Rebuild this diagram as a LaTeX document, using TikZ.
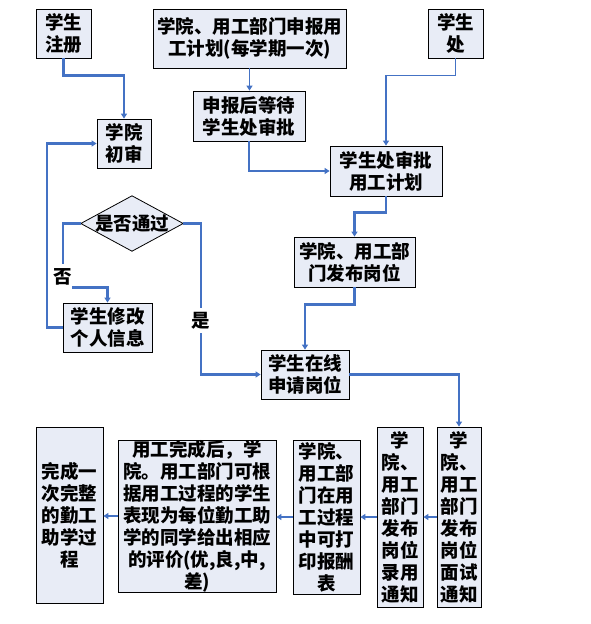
\documentclass[tikz,border=0pt]{standalone}
\usepackage{fontspec}
\setmainfont{Noto Sans CJK SC}
\usetikzlibrary{arrows.meta,calc}
\definecolor{boxfill}{RGB}{232,236,246}
\definecolor{linkblue}{RGB}{68,114,196}
\begin{document}
\begin{tikzpicture}[x=1pt,y=-1pt,
  box/.style={draw=black,line width=0.8pt,fill=boxfill,inner sep=0pt,align=center,
    font=\fontsize{18.5}{22}\selectfont\bfseries},
  conn/.style={draw=linkblue,line width=2.2pt,-{Triangle[length=5pt,width=6pt]}},
  thinconn/.style={conn,line width=1.7pt},
  lbl/.style={fill=white,inner sep=0pt,font=\fontsize{18.5}{22}\selectfont\bfseries}]
\useasboundingbox (0,0) rectangle (590,624);
\node[box,minimum width=55,minimum height=49] (reg) at (63.5,33.5) {学生\\注册};
\node[box,minimum width=193,minimum height=59] (plan) at (249.5,38.5) {学院、用工部门申报用\\工计划(每学期一次)};
\node[box,minimum width=55,minimum height=49] (xsc) at (455.5,33.5) {学生\\处};
\node[box,minimum width=112,minimum height=50] (wait) at (249,116) {申报后等待\\学生处审批};
\node[box,minimum width=54,minimum height=49] (chushen) at (124,143.5) {学院\\初审};
\node[box,minimum width=112,minimum height=50] (approve) at (386,171) {学生处审批\\用工计划};
\node[minimum width=102,minimum height=55,inner sep=0pt] (dia) at (132,223.5) {};
\fill[boxfill] (dia.north) -- (dia.east) -- (dia.south) -- (dia.west) -- cycle;
\draw[line width=0.8pt] (dia.north) -- (dia.east) -- (dia.south) -- (dia.west) -- cycle;
\node[font=\fontsize{18.5}{22}\selectfont\bfseries,inner sep=0pt] (diatext) at (dia.center) {是否通过};
\node[box,minimum width=89,minimum height=49] (modify) at (107.5,327.5) {学生修改\\个人信息};
\node[box,minimum width=121,minimum height=50] (publish) at (354.5,262) {学院、用工部\\门发布岗位};
\node[box,minimum width=88,minimum height=49] (apply) at (305,374.5) {学生在线\\申请岗位};
\node[box,minimum width=67,minimum height=176] (done) at (69.5,515) {完成一\\次完整\\的勤工\\助学过\\程};
\node[box,minimum width=158,minimum height=152] (eval) at (197,516) {用工完成后，学\\院。用工部门可根\\据用工过程的学生\\表现为每位勤工助\\学的同学给出相应\\的评价(优,良,中,\\差)};
\node[box,minimum width=67,minimum height=154] (pay) at (326.5,517) {学院、\\用工部\\门在用\\工过程\\中可打\\印报酬\\表};
\node[box,minimum width=46,minimum height=180] (hire) at (400,517) {学\\院、\\用工\\部门\\发布\\岗位\\录用\\通知};
\node[box,minimum width=44,minimum height=180] (interview) at (459,517) {学\\院、\\用工\\部门\\发布\\岗位\\面试\\通知};
% connectors
\draw[conn] (reg.south) -- ++(0,17) -| (chushen.north);
\draw[thinconn] (plan.south) -- (plan.south |- wait.north);
\draw[thinconn] (xsc.south) -- ++(0,17) -| (approve.north);
\draw[thinconn] (wait.south) |- (approve.west);
\draw[conn] (approve.south) -- ++(0,16) -| (publish.north);
\draw[conn] (publish.south) -- ++(0,17) -| (apply.north);
\draw[conn] (modify.west) -- ++(-16,0) |- (chushen.west);
\draw[conn] (dia.west) -- ++(-18,0) -- ++(0,64) -| (modify.north);
\node[lbl,minimum width=18,minimum height=26] (no) at (63,277) {否};
\draw[conn] (dia.east) -- ++(18,0) |- (apply.west);
\node[lbl,minimum width=20,minimum height=25] (yes) at (201,320.5) {是};
\draw[conn] (apply.east) -| (interview.north);
\draw[conn] (interview.west) -- (interview.west -| hire.east);
\draw[conn] (hire.west) -- (hire.west -| pay.east);
\draw[conn] (pay.west) -- (pay.west -| eval.east);
\draw[conn] (eval.west) -- (eval.west -| done.east);
\end{tikzpicture}
\end{document}
